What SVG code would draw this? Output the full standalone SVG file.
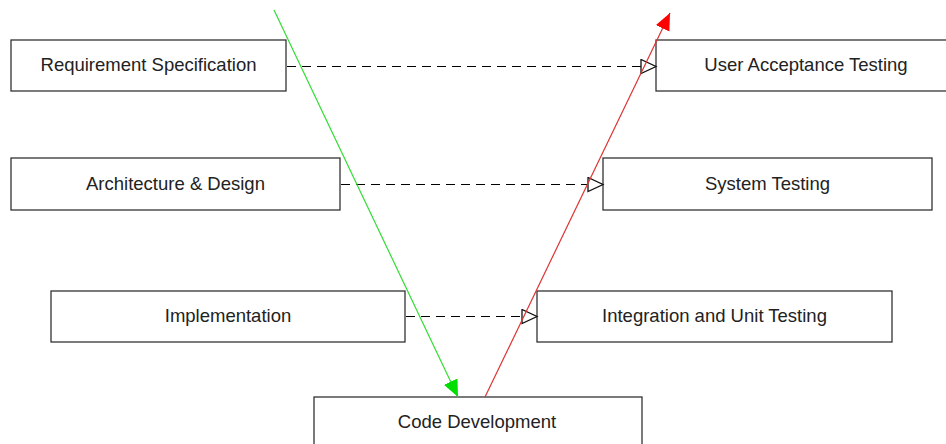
<svg xmlns="http://www.w3.org/2000/svg" width="946" height="444" viewBox="0 0 946 444">
  <style>
    .box { fill: #ffffff; stroke: #333333; stroke-width: 1.3; }
    .label { font-family: "Liberation Sans", Arial, sans-serif; font-size: 18.5px; fill: #222222; text-anchor: middle; }
    .trace { fill: none; stroke: #000000; stroke-width: 1.1; stroke-dasharray: 9 6; }
    .down { fill: none; stroke: #33dd33; stroke-width: 1.2; }
    .up { fill: none; stroke: #dd3333; stroke-width: 1.2; }
  </style>
  <defs>
    <marker id="open-head" markerUnits="userSpaceOnUse" markerWidth="18" markerHeight="18" refX="16" refY="8" orient="auto">
      <path d="M1,1 L16,8 L1,15 Z" fill="#ffffff" stroke="#111111" stroke-width="1.3"/>
    </marker>
    <marker id="green-head" markerUnits="userSpaceOnUse" markerWidth="18" markerHeight="16" refX="17" refY="7.5" orient="auto">
      <path d="M0,0 L17,7.5 L0,15 Z" fill="#00dd00"/>
    </marker>
    <marker id="red-head" markerUnits="userSpaceOnUse" markerWidth="18" markerHeight="16" refX="17" refY="7.5" orient="auto">
      <path d="M0,0 L17,7.5 L0,15 Z" fill="#ff0000"/>
    </marker>
  </defs>

  <rect width="946" height="444" fill="#ffffff"/>

  <!-- left arm: specification phases -->
  <g id="requirement-specification">
    <rect class="box" x="11" y="40" width="275" height="51"/>
    <text class="label" x="148.5" y="71">Requirement Specification</text>
  </g>
  <g id="architecture-design">
    <rect class="box" x="11" y="158" width="329" height="52"/>
    <text class="label" x="175.5" y="190">Architecture &amp; Design</text>
  </g>
  <g id="implementation">
    <rect class="box" x="51" y="291" width="354" height="51"/>
    <text class="label" x="228" y="322">Implementation</text>
  </g>

  <!-- right arm: testing phases -->
  <g id="user-acceptance-testing">
    <rect class="box" x="656" y="40" width="300" height="51"/>
    <text class="label" x="806" y="71">User Acceptance Testing</text>
  </g>
  <g id="system-testing">
    <rect class="box" x="603" y="158" width="329" height="52"/>
    <text class="label" x="767.5" y="190">System Testing</text>
  </g>
  <g id="integration-unit-testing">
    <rect class="box" x="537" y="291" width="355" height="51"/>
    <text class="label" x="714.5" y="322">Integration and Unit Testing</text>
  </g>

  <!-- bottom of the V -->
  <g id="code-development">
    <rect class="box" x="314" y="397" width="328" height="60"/>
    <text class="label" x="477" y="428">Code Development</text>
  </g>

  <g id="connectors">
    <line class="trace" x1="287" y1="66.5" x2="656" y2="66.5" marker-end="url(#open-head)"/>
    <line class="trace" x1="341" y1="184.5" x2="603" y2="184.5" marker-end="url(#open-head)"/>
    <line class="trace" x1="406" y1="316.5" x2="537" y2="316.5" marker-end="url(#open-head)"/>
    <line class="down" x1="274" y1="10" x2="458" y2="397" marker-end="url(#green-head)"/>
    <line class="up" x1="485" y1="397" x2="670" y2="13" marker-end="url(#red-head)"/>
  </g>
</svg>
